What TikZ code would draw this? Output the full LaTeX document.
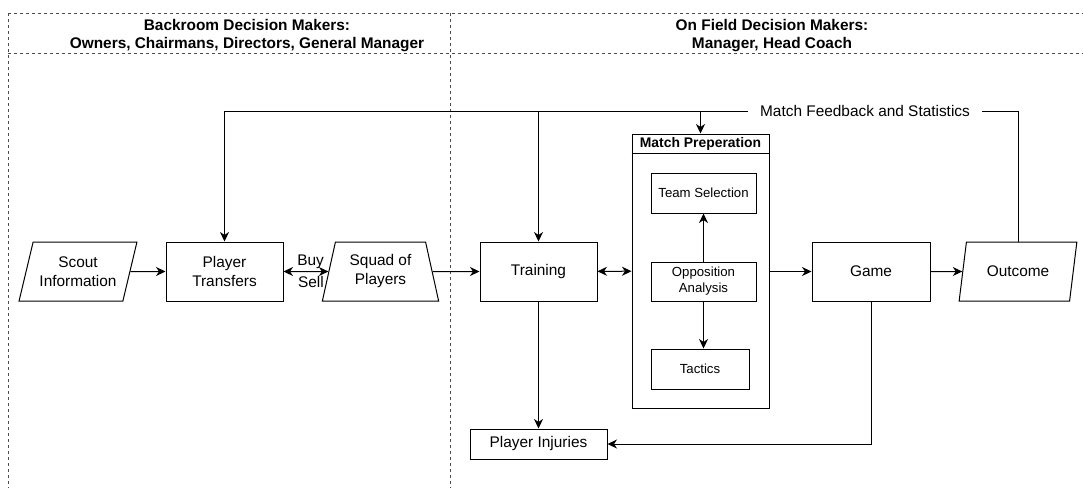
\documentclass[tikz,border=0pt]{standalone}
\usepackage{fontspec}
\setmainfont{Liberation Sans}
\usetikzlibrary{arrows.meta,shapes.geometric,calc}
\begin{document}
\begin{tikzpicture}[x=1pt,y=-1pt,
  txt/.style={font=\fontsize{15.4}{19}\selectfont},
  small/.style={font=\fontsize{13.2}{16}\selectfont},
  box/.style={draw,line width=1pt,align=center,inner sep=0pt,txt},
  iobox/.style={box,trapezium,trapezium left angle=68,trapezium right angle=112,trapezium stretches=true,minimum width=118pt,minimum height=59pt},
  trapbox/.style={box,trapezium,trapezium left angle=75,trapezium right angle=75,trapezium stretches=true,minimum width=117pt,minimum height=59pt},
  frame/.style={draw=black!70,line width=0.6pt,dash pattern=on 3pt off 3pt},
  conn/.style={line width=1pt},
  tip/.tip={Stealth[length=9.5pt,width=9pt,inset=3pt]},
  arr/.style={conn,-tip},
  darr/.style={conn,tip-tip},
  hdr/.style={align=center,font=\fontsize{15.4}{18}\selectfont\bfseries}
]
\useasboundingbox (0,0) rectangle (1083,488);

% swimlane frame
\draw[frame] (8,13) -- (1083,13);
\draw[frame] (8,53) -- (1083,53);
\draw[frame] (8,13) -- (8,488);
\draw[frame] (450,13) -- (450,488);

\node[hdr] (hleft) at (247,36) {Backroom Decision Makers:\\Owners, Chairmans, Directors, General Manager};
\node[hdr] (hright) at (772,36) {On Field Decision Makers:\\Manager, Head Coach};

% main nodes
\node[iobox] (scout) at (78,271.5) {Scout\\Information};
\node[box,minimum width=117pt,minimum height=59pt] (pt) at (224.5,271.5) {Player\\Transfers};
\node[trapbox] (squad) at (380.5,271.5) {Squad of\\Players};
\node[box,minimum width=117pt,minimum height=59pt] (train) at (538.5,271.5) {Training};
\node[box,minimum width=137pt,minimum height=274pt] (prep) at (700.5,271) {};
\node[font=\fontsize{13.9}{16}\selectfont\bfseries] (preptitle) at (700.5,144) {Match Preperation};
\draw[line width=1pt] ($(prep.north west)+(0,20)$) -- ($(prep.north east)+(0,20)$);
\node[box,small,minimum width=105pt,minimum height=40pt] (team) at (703.5,193) {Team Selection};
\node[box,small,minimum width=105pt,minimum height=39pt] (opp) at (703.5,281.5) {Opposition\\Analysis};
\node[box,small,minimum width=98pt,minimum height=40pt] (tac) at (700,369) {Tactics};
\node[box,minimum width=118pt,minimum height=59pt] (game) at (871,271.5) {Game};
\node[iobox] (out) at (1018,271.5) {Outcome};
\node[box,minimum width=137pt,minimum height=30pt] (inj) at (538.5,444) {Player Injuries};

\node[txt,inner sep=12pt] (fb) at (865,111) {Match Feedback and Statistics};

\node[txt,anchor=east,inner sep=0pt] (buy) at (324,262) {Buy};
\node[txt,anchor=east,inner sep=0pt] (sell) at (324,282) {Sell};

% connectors
\draw[arr] (scout) -- (pt);
\draw[darr] (pt) -- (squad);
\draw[arr] (squad) -- (train);
\draw[darr] (train) -- (prep);
\draw[arr] (prep.east |- game) -- (game);
\draw[arr] (game) -- (out);
\draw[arr] (opp.north) -- (opp.north |- team.south);
\draw[arr] (opp.south) -- (opp.south |- tac.north);
\draw[conn] (out.north) |- (fb.east);
\draw[arr] (fb.west) -| (pt.north);
\draw[arr] (train.north |- fb.west) -- (train.north);
\draw[arr] (prep.north |- fb.west) -- (prep.north);
\draw[arr] (train.south) -- (inj.north);
\draw[arr] (game.south) |- (inj.east);
\end{tikzpicture}
\end{document}
